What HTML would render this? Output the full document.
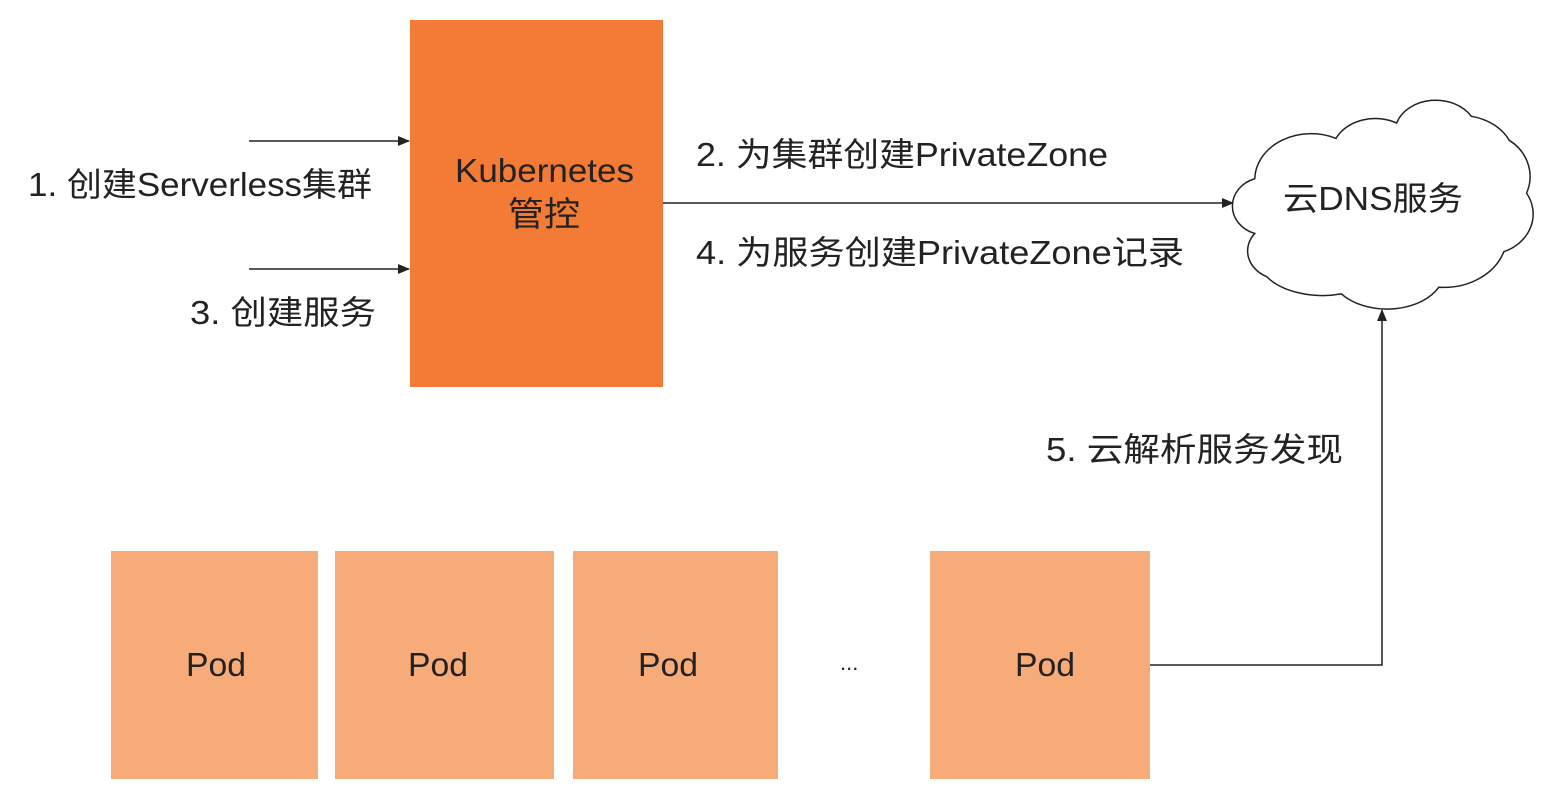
<!DOCTYPE html>
<html><head><meta charset="utf-8"><style>
body{margin:0;background:#fff;}
svg text{font-family:"Liberation Sans","Noto Sans CJK SC",sans-serif;fill:#222;}
</style></head><body>
<svg width="1546" height="801" viewBox="0 0 1546 801" xmlns="http://www.w3.org/2000/svg">
<defs><marker id="a" markerWidth="12" markerHeight="10" refX="11" refY="5" orient="auto" markerUnits="userSpaceOnUse"><path d="M0,0 L12,5 L0,10 z" fill="#222"/></marker></defs>
<rect x="410" y="20" width="253" height="367" fill="#F47B35"/>
<text x="455" y="182" font-size="33" textLength="179" lengthAdjust="spacingAndGlyphs">Kubernetes</text>
<text x="508" y="226" font-size="34" textLength="72" lengthAdjust="spacingAndGlyphs">管控</text>
<line x1="249" y1="141" x2="409" y2="141" stroke="#222" stroke-width="1.5" marker-end="url(#a)"/>
<line x1="249" y1="269" x2="409" y2="269" stroke="#222" stroke-width="1.5" marker-end="url(#a)"/>
<text x="28" y="196" font-size="33" textLength="344" lengthAdjust="spacingAndGlyphs">1. 创建Serverless集群</text>
<text x="190" y="324" font-size="33" textLength="186" lengthAdjust="spacingAndGlyphs">3. 创建服务</text>
<line x1="663" y1="203" x2="1233" y2="203" stroke="#222" stroke-width="1.5" marker-end="url(#a)"/>
<text x="696" y="166" font-size="33" textLength="412" lengthAdjust="spacingAndGlyphs">2. 为集群创建PrivateZone</text>
<text x="696" y="264" font-size="33" textLength="488" lengthAdjust="spacingAndGlyphs">4. 为服务创建PrivateZone记录</text>
<g transform="translate(1232,100) scale(1.083,0.96) translate(-1241,-86)">
<path d="M1262,225 A30,30 0 0 1 1262,168 A52,48 0 0 1 1337,126 A40,36 0 0 1 1393,110 A38,34 0 0 1 1462,103 A50,44 0 0 1 1497,128 A42,45 0 0 1 1513,183 A42,42 0 0 1 1492,244 A58,54 0 0 1 1432,281 A53,40 0 0 1 1342,288 A60,40 0 0 1 1273,270 A32,30 0 0 1 1262,225 Z" fill="#fff" stroke="#222" stroke-width="1.5" vector-effect="non-scaling-stroke"/>
</g>
<text x="1283" y="210" font-size="33" textLength="180" lengthAdjust="spacingAndGlyphs">云DNS服务</text>
<polyline points="1150,665 1382,665 1382,310" fill="none" stroke="#222" stroke-width="1.5" marker-end="url(#a)"/>
<text x="1046" y="461" font-size="33" textLength="297" lengthAdjust="spacingAndGlyphs">5. 云解析服务发现</text>
<g fill="#F7AB78">
<rect x="111" y="551" width="207" height="228"/>
<rect x="335" y="551" width="219" height="228"/>
<rect x="573" y="551" width="205" height="228"/>
<rect x="930" y="551" width="220" height="228"/>
</g>
<g font-size="33">
<text x="186" y="676" textLength="60" lengthAdjust="spacingAndGlyphs">Pod</text>
<text x="408" y="676" textLength="60" lengthAdjust="spacingAndGlyphs">Pod</text>
<text x="638" y="676" textLength="60" lengthAdjust="spacingAndGlyphs">Pod</text>
<text x="1015" y="676" textLength="60" lengthAdjust="spacingAndGlyphs">Pod</text>
<text x="840" y="670" font-size="22">...</text>
</g>
</svg>
</body></html>
